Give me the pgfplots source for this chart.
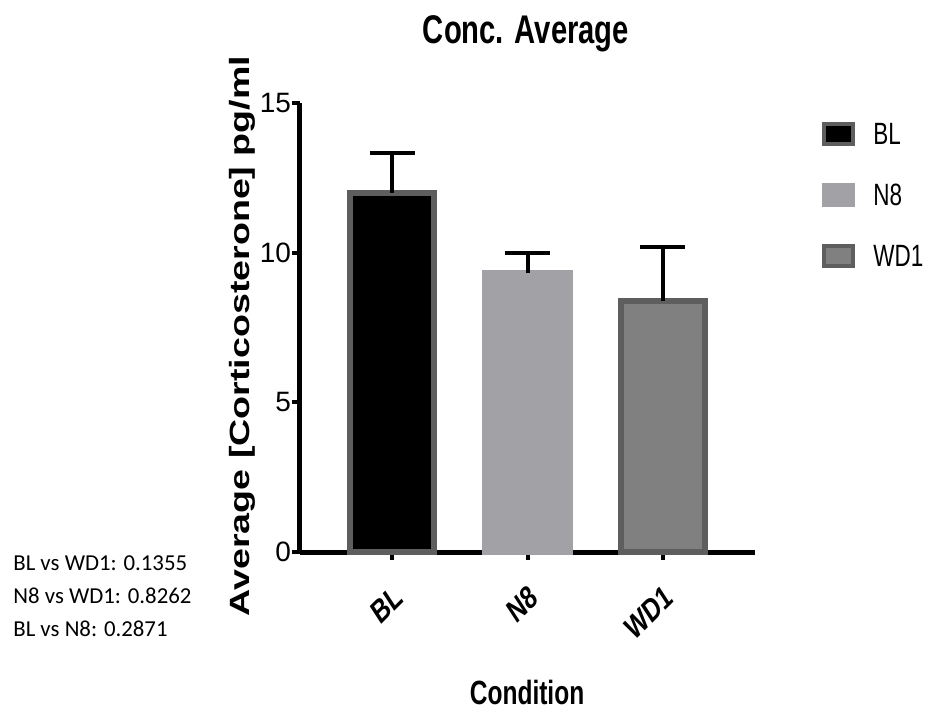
\documentclass[border=0pt]{standalone}
\usepackage{fontspec}
\setmainfont{Liberation Sans}
\newfontfamily\narrowfont[FakeStretch=0.73]{Liberation Sans}
\newfontfamily\tickfont[FakeStretch=0.85, FakeSlant=0.21]{Liberation Sans Bold}
\newfontfamily\calib{Carlito}
\usepackage{pgfplots}
\pgfplotsset{compat=1.18}

\definecolor{bordergray}{HTML}{5E5E5E}
\definecolor{lightbar}{HTML}{A2A2A6}
\definecolor{midbar}{HTML}{808080}

\begin{document}
\begin{tikzpicture}
\begin{axis}[
    scale only axis, width=227.5pt, height=224.5pt,
    xmin=-0.68, xmax=2.68, ymin=0, ymax=15,
    axis lines*=left,
    axis line style={line width=2.5pt, black},
    tick align=outside, major tick length=4pt,
    tick style={line width=2pt, black},
    xtick={0,1,2}, xticklabels={BL,N8,WD1},
    x tick label style={xshift=2.5pt, yshift=-17pt, rotate=45, anchor=east, inner sep=0pt,
        font=\tickfont\fontsize{15}{15}\selectfont},
    ytick={0,5,10,15},
    y tick label style={xshift=3pt, font=\fontsize{14}{14}\selectfont,
        /pgf/number format/assume math mode=true},
    clip=false,
    legend style={at={(1.147,0.9577)}, anchor=north west, draw=none, fill=none,
        inner sep=0pt, row sep=18pt, column sep=9pt,
        nodes={inner sep=0pt},
        font=\narrowfont\fontsize{15.4}{15.4}\selectfont},
    legend cell align=left,
    legend image code/.code={\draw[#1, line width=2pt] (1pt,-4.6pt) rectangle (15.5pt,5.4pt);},
    error bars/y dir=plus, error bars/y explicit,
    error bars/error bar style={line width=2pt, black},
    error bars/error mark options={line width=2pt, black, mark size=11.25pt, rotate=90},
]
\addplot+[ybar, bar width=42pt, bar shift=0pt, fill=black, draw=bordergray, line width=3pt, mark=none]
    coordinates {(0,12.0) +- (0,1.33)};
\addplot+[ybar, bar width=42pt, bar shift=0pt, fill=lightbar, draw=lightbar, line width=3pt, mark=none]
    coordinates {(1,9.32) +- (0,0.68)};
\addplot+[ybar, bar width=42pt, bar shift=0pt, fill=midbar, draw=bordergray, line width=3pt, mark=none]
    coordinates {(2,8.39) +- (0,1.79)};
\legend{BL,N8,WD1}

\node[anchor=base, font=\narrowfont\bfseries\fontsize{20}{20}\selectfont]
    at (rel axis cs:0.4967,1.1336) {Conc. Average};
\node[anchor=base, font=\narrowfont\bfseries\fontsize{16.8}{16.8}\selectfont]
    at (rel axis cs:0.499,-0.3385) {Condition};
\node[rotate=90, anchor=center, font=\bfseries\fontsize{18.8}{18.8}\selectfont]
    at (rel axis cs:-0.1275,0.481) {\scalebox{1}[0.74]{Average [Corticosterone] pg/ml}};
\node[anchor=base west, inner sep=0pt, font=\calib\fontsize{11.4}{11.4}\selectfont]
    at (rel axis cs:-0.6308,-0.0401) {BL vs WD1: 0.1355};
\node[anchor=base west, inner sep=0pt, font=\calib\fontsize{11.4}{11.4}\selectfont]
    at (rel axis cs:-0.6308,-0.1136) {N8 vs WD1: 0.8262};
\node[anchor=base west, inner sep=0pt, font=\calib\fontsize{11.4}{11.4}\selectfont]
    at (rel axis cs:-0.6308,-0.1871) {BL vs N8: 0.2871};

\coordinate (bbtl) at (rel axis cs:-0.6593,1.2294);
\coordinate (bbbr) at (rel axis cs:1.3868,-0.3608);
\end{axis}
\pgfresetboundingbox
\path[use as bounding box] (bbtl) rectangle (bbbr);
\end{tikzpicture}
\end{document}
